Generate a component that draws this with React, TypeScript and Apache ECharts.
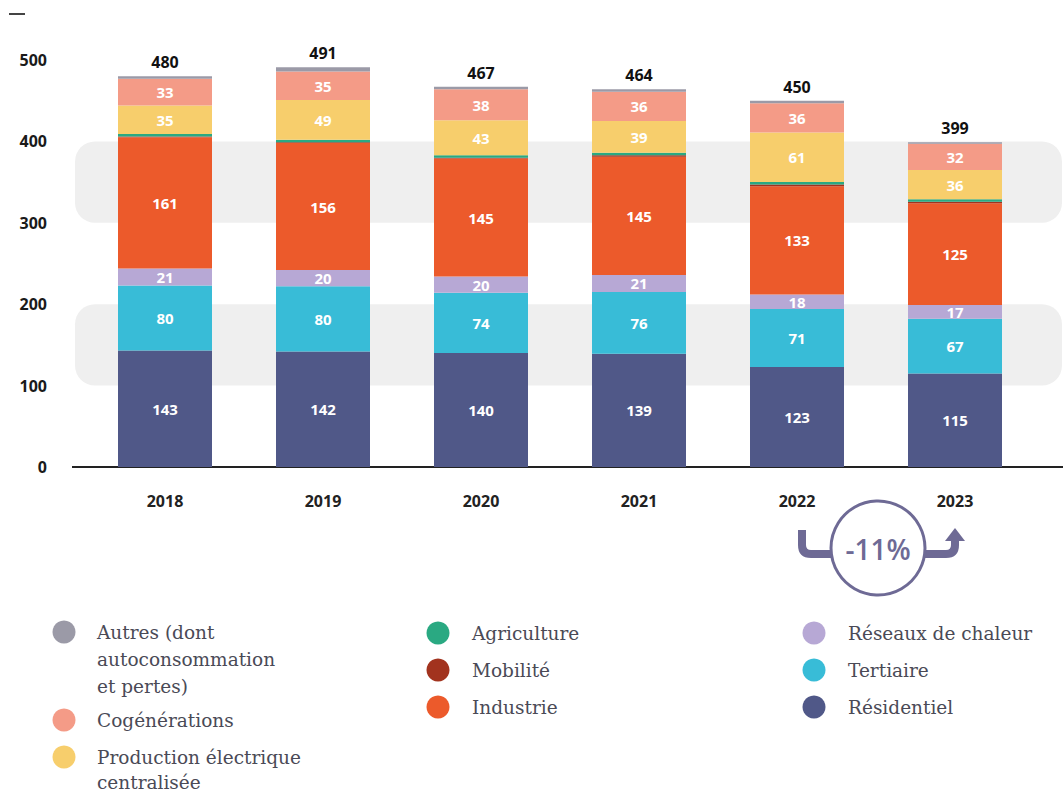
import React, { useEffect, useRef } from "react";
import * as echarts from "echarts";

const years = ["2018", "2019", "2020", "2021", "2022", "2023"];
const residentiel = [143, 142, 140, 139, 123, 115];
const tertiaire = [80, 80, 74, 76, 71, 67];
const reseaux = [21, 20, 20, 21, 18, 17];
const industrie = [161, 156, 145, 145, 133, 125];
const mobilite = [1, 1, 1, 2, 2, 2];
const agriculture = [3, 3, 3, 3, 3, 3];
const production = [35, 49, 43, 39, 61, 36];
const cogenerations = [33, 35, 38, 36, 36, 32];
const autres = [3, 5, 3, 3, 3, 2];
const totals = [480, 491, 467, 464, 450, 399];
const yTicks = [0, 100, 200, 300, 400, 500];
const changeLabel = "-11%";

const N_RES = "Résidentiel";
const N_TER = "Tertiaire";
const N_RDC = "Réseaux de chaleur";
const N_IND = "Industrie";
const N_MOB = "Mobilité";
const N_AGR = "Agriculture";
const N_PRO = "Production électrique\ncentralisée";
const N_COG = "Cogénérations";
const N_AUT = "Autres (dont\nautoconsommation\net pertes)";

const seriesDefs = [
  { name: N_RES, data: residentiel, color: "#505888", label: true },
  { name: N_TER, data: tertiaire, color: "#38bcd7", label: true },
  { name: N_RDC, data: reseaux, color: "#b7a8d5", label: true },
  { name: N_IND, data: industrie, color: "#ec5a2b", label: true },
  { name: N_MOB, data: mobilite, color: "#a2331e", label: false },
  { name: N_AGR, data: agriculture, color: "#2aa982", label: false },
  { name: N_PRO, data: production, color: "#f7ce6c", label: true },
  { name: N_COG, data: cogenerations, color: "#f49b87", label: true },
  { name: N_AUT, data: autres, color: "#9b9aa7", label: false, total: true },
];

const legendColumns = [
  { markerX: 64, textX: 97, items: [[N_AUT, 632], [N_COG, 720], [N_PRO, 757]] },
  { markerX: 438, textX: 472, items: [[N_AGR, 633], [N_MOB, 670], [N_IND, 707]] },
  { markerX: 814, textX: 848, items: [[N_RDC, 633], [N_TER, 670], [N_RES, 707]] },
];

const ACCENT = "#6e6a95";

echarts.graphic.registerShape(
  "arrowLeft",
  echarts.graphic.extendPath("M802 530 L802 545 Q802 554 811 554 L836 554", {})
);
echarts.graphic.registerShape(
  "arrowRight",
  echarts.graphic.extendPath("M920 554 L946 554 Q955 554 955 545 L955 539", {})
);

export default function App() {
  const ref = useRef<HTMLDivElement>(null);

  useEffect(() => {
    if (!ref.current) return;
    const chart = echarts.init(ref.current, null, { renderer: "svg" });

    const series = seriesDefs.map((s) => ({
      name: s.name,
      type: "bar",
      stack: "total",
      data: s.data,
      barWidth: 94,
      itemStyle: { color: s.color },
      label: s.total
        ? {
            show: true,
            position: "top",
            distance: 6,
            color: "#111",
            fontFamily: "Open Sans",
            fontWeight: "bold",
            fontSize: 16,
            formatter: (p: any) => String(totals[p.dataIndex]),
          }
        : {
            show: s.label,
            position: "inside",
            color: "#ffffff",
            fontFamily: "Open Sans",
            fontWeight: "bold",
            fontSize: 15,
          },
      emphasis: { disabled: true },
    }));

    chart.setOption({
      animation: false,
      grid: { left: 86, right: 29, top: 60, bottom: 327, containLabel: false },
      xAxis: {
        type: "category",
        data: years,
        axisLine: { show: false },
        axisTick: { show: false },
        axisLabel: {
          margin: 26,
          color: "#222",
          fontFamily: "Open Sans",
          fontWeight: "bold",
          fontSize: 16,
        },
      },
      yAxis: {
        type: "value",
        min: yTicks[0],
        max: yTicks[yTicks.length - 1],
        interval: yTicks[1] - yTicks[0],
        splitLine: { show: false },
        axisLine: { show: false },
        axisTick: { show: false },
        axisLabel: {
          margin: 39,
          color: "#1a1a1a",
          fontFamily: "Open Sans",
          fontWeight: "bold",
          fontSize: 16,
        },
      },
      series,
    });

    const py = (v: number) => chart.convertToPixel({ yAxisIndex: 0 }, v) as number;
    const graphics: any[] = [];

    // background bands
    [[300, 400], [100, 200]].forEach(([lo, hi]) => {
      const top = py(hi);
      const bottom = py(lo);
      graphics.push({
        type: "rect",
        z: -10,
        silent: true,
        shape: { x: 75, y: top, width: 987, height: bottom - top, r: 20 },
        style: { fill: "#efefef" },
      });
    });

    // baseline
    graphics.push({
      type: "line",
      z: -5,
      silent: true,
      shape: { x1: 72, y1: py(0), x2: 1063, y2: py(0) },
      style: { stroke: "#222", lineWidth: 2 },
    });

    // top-left dash
    graphics.push({
      type: "rect",
      silent: true,
      shape: { x: 9, y: 13, width: 16, height: 2 },
      style: { fill: "#444" },
    });

    // change badge
    graphics.push({
      type: "arrowLeft",
      z: 50,
      silent: true,
      style: { fill: "none", stroke: ACCENT, lineWidth: 8 },
    });
    graphics.push({
      type: "arrowRight",
      z: 50,
      silent: true,
      style: { fill: "none", stroke: ACCENT, lineWidth: 8 },
    });
    graphics.push({
      type: "polygon",
      z: 50,
      silent: true,
      shape: { points: [[945, 541], [965, 541], [955, 528]] },
      style: { fill: ACCENT },
    });
    graphics.push({
      type: "circle",
      z: 51,
      silent: true,
      shape: { cx: 878, cy: 548, r: 47 },
      style: { fill: "#ffffff", stroke: ACCENT, lineWidth: 3 },
    });
    graphics.push({
      type: "text",
      z: 52,
      silent: true,
      x: 878,
      y: 549,
      style: {
        text: changeLabel,
        fill: ACCENT,
        fontFamily: "Open Sans",
        fontWeight: 600,
        fontSize: 28,
        textAlign: "center",
        textVerticalAlign: "middle",
      },
    });

    // legend
    legendColumns.forEach((col) => {
      col.items.forEach(([name, cy]) => {
        const def = seriesDefs.find((s) => s.name === name)!;
        const lh = name === N_PRO ? 25 : 27;
        graphics.push({
          type: "circle",
          silent: true,
          shape: { cx: col.markerX, cy: cy as number, r: 11.5 },
          style: { fill: def.color },
        });
        graphics.push({
          type: "text",
          silent: true,
          x: col.textX,
          y: (cy as number) - lh / 2,
          style: {
            text: name as string,
            fill: "#4a4a56",
            fontFamily: "DejaVu Serif",
            fontSize: 18.5,
            lineHeight: lh,
            textAlign: "left",
            textVerticalAlign: "top",
          },
        });
      });
    });

    chart.setOption({ graphic: graphics });

    return () => chart.dispose();
  }, []);

  return (
    <div
      ref={ref}
      style={{ position: "absolute", left: 0, top: 0, width: 1063, height: 794, background: "#fff" }}
    />
  );
}
